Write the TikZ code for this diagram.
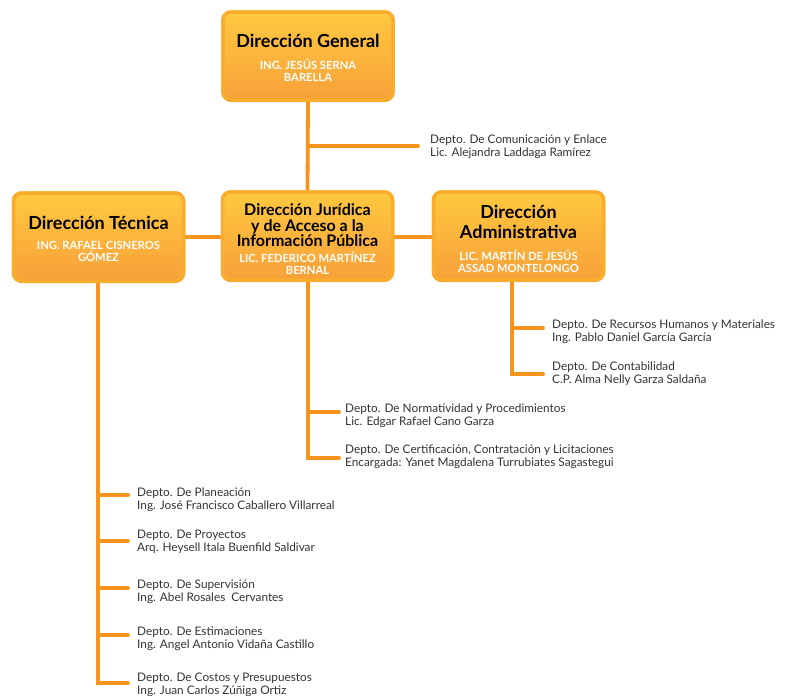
\documentclass[tikz,border=0pt]{standalone}
\usepackage{fontspec}
\setmainfont{Lato}
\usetikzlibrary{shadows}
\definecolor{boxtop}{HTML}{FFC93F}
\definecolor{boxbot}{HTML}{F8A03A}
\definecolor{boxedge}{HTML}{F9AD2C}
\definecolor{conncol}{HTML}{F7941E}
\definecolor{depttext}{HTML}{333333}
\tikzset{
  dirbox/.style={rectangle, rounded corners=8pt, minimum width=170pt, minimum height=88pt,
    draw=boxedge, line width=3.5pt, top color=boxtop, bottom color=boxbot,
    drop shadow={shadow xshift=0pt, shadow yshift=-2pt, opacity=0.18, fill=black}},
  dirtitle/.style={align=center, font=\bfseries\fontsize{18}{15}\selectfont, text=black, inner sep=0pt},
  dirtitlec/.style={align=center, font=\bfseries\fontsize{16}{15.5}\selectfont, text=black, inner sep=0pt},
  dirtitleb/.style={align=center, font=\bfseries\fontsize{18}{20}\selectfont, text=black, inner sep=0pt},
  dirname/.style={align=center, font=\bfseries\fontsize{11.2}{12}\selectfont, text=white, inner sep=0pt},
  dept/.style={anchor=west, align=left, font=\fontsize{11.8}{13}\selectfont, text=depttext, inner sep=0pt},
  conn/.style={draw=conncol, line width=3.8pt, line cap=round}
}
\begin{document}
\begin{tikzpicture}[x=1pt,y=-1pt]
\useasboundingbox (0,0) rectangle (785,696);
\coordinate (jurtrunk) at (308,282);
\coordinate (tectrunk) at (98,282);
\coordinate (admtrunk) at (512,282);

% boxes (for anchors)
\node[dirbox] (gen) at (308,56) {};
\node[dirbox] (tec) at (98.5,237) {};
\node[dirbox] (jur) at (307.5,236) {};
\node[dirbox] (adm) at (518.5,236) {};

% department texts
\node[dept] (com) at (430,146.5) {Depto. De Comunicación y Enlace\\Lic. Alejandra Laddaga Ramírez};
\node[dept] (rh) at (552,331.5) {Depto. De Recursos Humanos y Materiales\\Ing. Pablo Daniel García García};
\node[dept] (cont) at (552,373.5) {Depto. De Contabilidad\\C.P. Alma Nelly Garza Saldaña};
\node[dept] (norm) at (345,415.5) {Depto. De Normatividad y Procedimientos\\Lic. Edgar Rafael Cano Garza};
\node[dept] (cert) at (345,456.5) {Depto. De Certificación, Contratación y Licitaciones\\Encargada: Yanet Magdalena Turrubiates Sagastegui};
\node[dept] (plan) at (137,499.5) {Depto. De Planeación\\Ing. José Francisco Caballero Villarreal};
\node[dept] (proy) at (137,541.5) {Depto. De Proyectos\\Arq. Heysell Itala Buenfild Saldivar};
\node[dept] (sup) at (137,591.5) {Depto. De Supervisión\\Ing. Abel Rosales\ \ Cervantes};
\node[dept] (est) at (137,639) {Depto. De Estimaciones\\Ing. Angel Antonio Vidaña Castillo};
\node[dept] (cos) at (137,685) {Depto. De Costos y Presupuestos\\Ing. Juan Carlos Zúñiga Ortiz};

% connectors
\draw[conn] (gen.south) -- (jur.north);
\draw[conn] (308,146) -- ([xshift=-12pt]com.west |- 308,146);
\draw[conn] (tec.east |- 0,237) -- (jur.west |- 0,237);
\draw[conn] (jur.east |- 0,237) -- (adm.west |- 0,237);
% juridica trunk
\draw[conn] (jurtrunk) -- (308,458) -- ([xshift=-6pt]cert.west |- 0,458);
\draw[conn] (308,412) -- ([xshift=-6pt]norm.west |- 0,412);
% administrativa trunk
\draw[conn] (admtrunk) -- (512,374) -- ([xshift=-9pt]cont.west |- 0,374);
\draw[conn] (512,328) -- ([xshift=-9pt]rh.west |- 0,328);
% tecnica trunk
\draw[conn] (tectrunk) -- (98,683) -- ([xshift=-9pt]cos.west |- 0,683);
\draw[conn] (98,495) -- ([xshift=-9pt]plan.west |- 0,495);
\draw[conn] (98,541) -- ([xshift=-9pt]proy.west |- 0,541);
\draw[conn] (98,588) -- ([xshift=-9pt]sup.west |- 0,588);
\draw[conn] (98,635) -- ([xshift=-9pt]est.west |- 0,635);

% redraw boxes over connectors
\node[dirbox] at (gen) {};
\node[dirbox] at (tec) {};
\node[dirbox] at (jur) {};
\node[dirbox] at (adm) {};

% box texts
\node[dirtitle] (gent) at (308,41) {Dirección General};
\node[dirname] (genn) at (308,70) {ING. JESÚS SERNA\\BARELLA};
\node[dirtitle] (tect) at (98.5,223) {Dirección Técnica};
\node[dirname] (tecn) at (98.5,251) {ING. RAFAEL CISNEROS\\GÓMEZ};
\node[dirtitlec] (jurt) at (307.5,225.5) {Dirección Jurídica\\y de Acceso a la\\Información Pública};
\node[dirname] (jurn) at (307.5,263) {LIC. FEDERICO MARTÍNEZ\\BERNAL};
\node[dirtitleb] (admt) at (518.5,222) {Dirección\\Administrativa};
\node[dirname] (admn) at (518.5,261) {LIC. MARTÍN DE JESÚS\\ASSAD MONTELONGO};
\end{tikzpicture}
\end{document}
